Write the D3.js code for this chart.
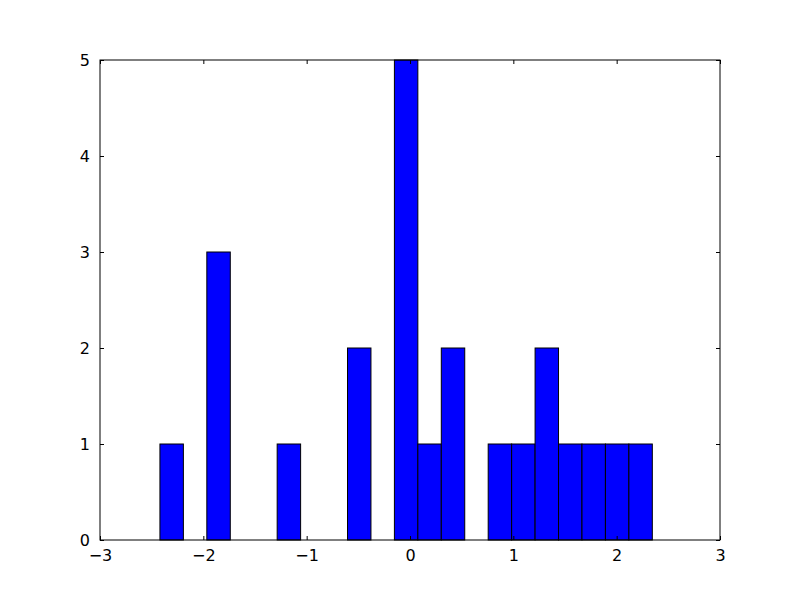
<!DOCTYPE html>
<html><head><meta charset="utf-8">
<script src="https://cdn.jsdelivr.net/npm/d3@7"></script>
<style>body{margin:0;background:#fff}svg{display:block}</style>
</head><body>
<script>
const binStart = -2.42;
const binEnd = 2.345;
const counts = [1,0,3,0,0,1,0,0,2,0,5,1,2,0,1,1,2,1,1,1,1];
const xTicks = [-3,-2,-1,0,1,2,3];
const yTicks = [0,1,2,3,4,5];

const W=800,H=600, L=100,R=720,T=60,B=540;
const svg=d3.select("body").append("svg").attr("width",W).attr("height",H);
svg.append("rect").attr("width",W).attr("height",H).attr("fill","#fff");
const x=d3.scaleLinear().domain([-3,3]).range([L,R]);
const y=d3.scaleLinear().domain([0,5]).range([B,T]);
const bw=(binEnd-binStart)/counts.length;
const bins=counts.map((c,i)=>({x0:binStart+i*bw,x1:binStart+(i+1)*bw,c}));
svg.append("g").selectAll("rect").data(bins.filter(d=>d.c>0)).join("rect")
  .attr("x",d=>x(d.x0)).attr("width",d=>x(d.x1)-x(d.x0))
  .attr("y",d=>y(d.c)).attr("height",d=>y(0)-y(d.c))
  .attr("fill","#0000ff").attr("stroke","#000").attr("stroke-width",1);

const font="'DejaVu Sans'";
const fmt=v=>v<0?"\u2212"+Math.abs(v):String(v);
const tl=4;
// x axis bottom
const gx=svg.append("g").attr("transform",`translate(0,${B})`)
  .call(d3.axisBottom(x).tickValues(xTicks).tickSizeInner(-tl).tickSizeOuter(0).tickPadding(10).tickFormat(fmt));
const gxt=svg.append("g").attr("transform",`translate(0,${T})`)
  .call(d3.axisTop(x).tickValues(xTicks).tickSizeInner(-tl).tickSizeOuter(0).tickFormat(""));
const gy=svg.append("g").attr("transform",`translate(${L},0)`)
  .call(d3.axisLeft(y).tickValues(yTicks).tickSizeInner(-tl).tickSizeOuter(0).tickPadding(10).tickFormat(fmt));
const gyr=svg.append("g").attr("transform",`translate(${R},0)`)
  .call(d3.axisRight(y).tickValues(yTicks).tickSizeInner(-tl).tickSizeOuter(0).tickFormat(""));
[gx,gxt,gy,gyr].forEach(g=>{
  g.select(".domain").remove();
  g.selectAll("line").attr("stroke","#000");
  g.selectAll("text").attr("font-family",font).attr("font-size",16).attr("fill","#000");
});
svg.append("rect").attr("x",L).attr("y",T).attr("width",R-L).attr("height",B-T)
  .attr("fill","none").attr("stroke","#000").attr("stroke-width",1);
</script>
</body></html>
